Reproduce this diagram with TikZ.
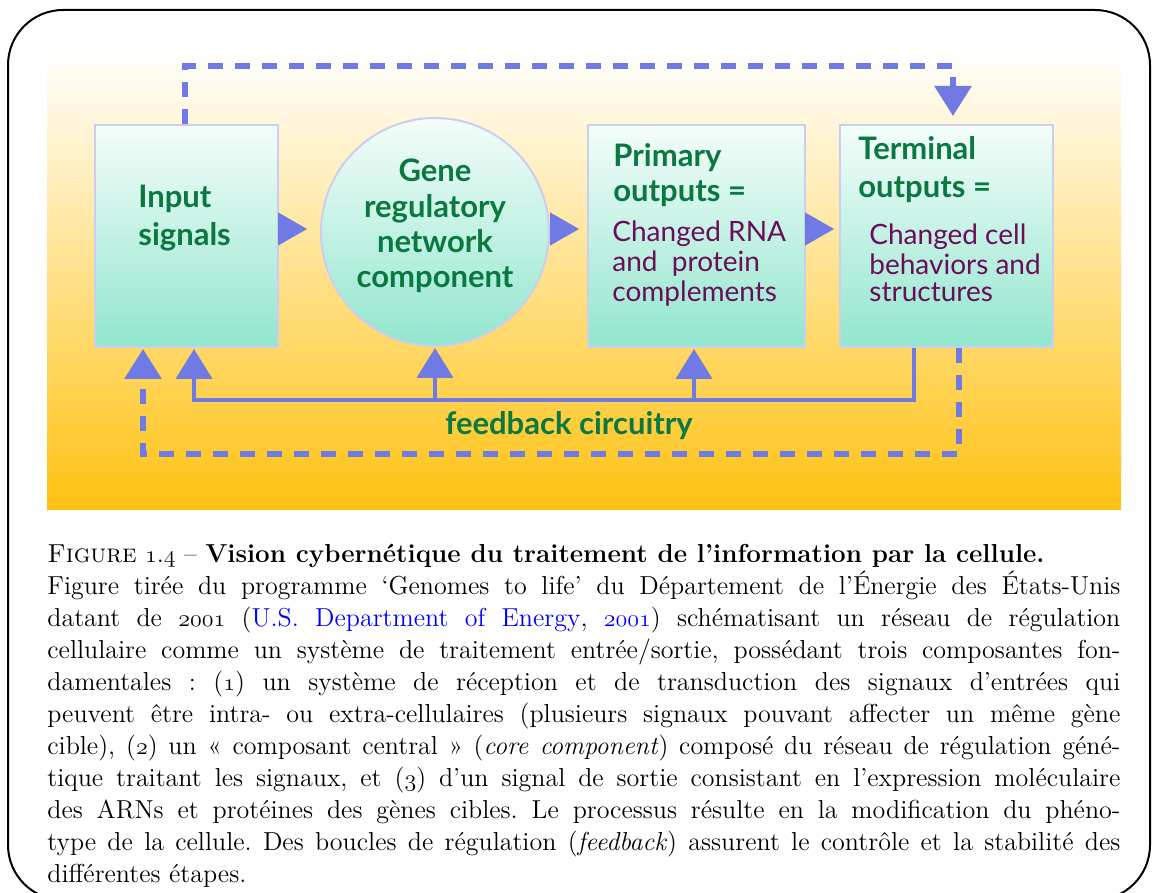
\documentclass[tikz,border=0pt]{standalone}
\usepackage{fontspec}
\newfontfamily\lato{Lato}
\usetikzlibrary{arrows.meta}
\definecolor{fbblue}{RGB}{112,122,228}
\definecolor{tgreen}{RGB}{10,120,64}
\definecolor{tpurple}{RGB}{106,15,87}
\definecolor{mint}{RGB}{146,230,206}
\definecolor{mintlight}{RGB}{244,253,250}
\definecolor{boxedge}{RGB}{204,206,240}
\definecolor{bgyellow}{RGB}{255,194,18}
\definecolor{bgmid}{RGB}{253,226,150}
\definecolor{linkblue}{RGB}{0,0,255}
\newcommand\osf[1]{{\fontencoding{OML}\fontfamily{lmm}\fontseries{m}\fontshape{it}\selectfont #1}}
\frenchspacing
\begin{document}
\begin{tikzpicture}[x=0.5pt,y=0.5pt,
  stagebox/.style={draw=boxedge, line width=1pt, top color=mintlight, bottom color=mint, inner sep=0pt},
  ttl/.style={font=\lato\bfseries\fontsize{15.5}{19}\selectfont, text=tgreen, inner sep=0pt},
  sub/.style={font=\lato\fontsize{14}{15}\selectfont, text=tpurple, inner sep=0pt},
  captext/.style={font=\fontsize{13}{16}\selectfont\frenchspacing, inner sep=0pt, anchor=base west},
  gaparrow/.style={fbblue, line width=0.5pt, -{Triangle[length=14.5pt,width=16.5pt]}},
  tipfb/.style={-{Triangle[length=15pt,width=18pt]}},
  solidfb/.style={fbblue, line width=2pt, tipfb},
  dashfb/.style={fbblue, line width=3pt, dash pattern=on 7.5pt off 6pt, tipfb}]
\useasboundingbox (0,0) rectangle (1152,-893);
\draw[line width=1pt, rounded corners=27.5pt] (8,-10) rectangle (1150,-900);
\shade[top color=white, middle color=bgmid, bottom color=bgyellow] (47,-50) rectangle (1121,-509);

% stages
\node[stagebox, minimum width=91.5pt, minimum height=111pt] (inp) at (186.5,-236) {};
\node[stagebox, circle, minimum size=114pt] (gene) at (435,-232) {};
\node[stagebox, minimum width=108.5pt, minimum height=111pt] (prim) at (696.5,-236) {};
\node[stagebox, minimum width=106.5pt, minimum height=111pt] (term) at (946.5,-236) {};

% texts
\node[ttl, anchor=base west] (inp1) at (138,-208) {Input};
\node[ttl, anchor=base west] (inp2) at (138,-246) {signals};
\node[ttl, anchor=base] (gene1) at (435,-182) {Gene};
\node[ttl, anchor=base] (gene2) at (435,-218) {regulatory};
\node[ttl, anchor=base] (gene3) at (435,-253) {network};
\node[ttl, anchor=base] (gene4) at (435,-288) {component};
\node[ttl, anchor=base west] (prim1) at (613,-167) {Primary};
\node[ttl, anchor=base west] (prim2) at (613,-202) {outputs =};
\node[sub, anchor=base west] (prim3) at (612,-242) {Changed RNA};
\node[sub, anchor=base west] (prim4) at (612,-272) {and\ \ protein};
\node[sub, anchor=base west] (prim5) at (612,-302) {complements};
\node[ttl, anchor=base west] (term1) at (858,-160) {Terminal};
\node[ttl, anchor=base west] (term2) at (858,-198) {outputs =};
\node[sub, anchor=base west] (term3) at (869,-245) {Changed cell};
\node[sub, anchor=base west] (term4) at (869,-275) {behaviors and};
\node[sub, anchor=base west] (term5) at (869,-302) {structures};
\node[ttl, anchor=base] (fbtxt) at (569,-435) {feedback circuitry};

% forward arrows
\draw[gaparrow, shorten >=6.5pt] ([yshift=3.5pt]inp.east) -- ([yshift=1.5pt]gene.west);
\draw[gaparrow, shorten >=4pt] ([yshift=1.5pt]gene.east) -- ([yshift=3.5pt]prim.west);
\draw[gaparrow, shorten >=2.5pt] ([yshift=3.5pt]prim.east) -- ([yshift=3.5pt]term.west);

% top dashed feedback
\draw[dashfb, shorten >=4pt] ([xshift=-0.75pt]inp.north) -- ++(0,58) -| ([xshift=3.25pt]term.north);

% solid feedback circuitry
\coordinate (bus) at (0,-400);
\draw[solidfb, shorten >=0.5pt] ([xshift=-16.25pt]term.south) |- (bus -| 194,0) -- ([xshift=3.75pt]inp.south);
\draw[solidfb, shorten >=0.5pt] (bus -| gene.south) -- (gene.south);
\draw[solidfb, shorten >=0.5pt] (bus -| 694,0) -- ([xshift=-1.25pt]prim.south);

% bottom dashed feedback
\draw[dashfb, shorten >=0.5pt] ([xshift=6.25pt]term.south) -- ++(0,-106) -| ([xshift=-21.75pt]inp.south);

% caption
\def\W{536.5pt}
\node[captext] (c1) at (47,-562) {\textsc{Figure} \osf{1}.\osf{4} -- \textbf{Vision cybernétique du traitement de l’information par la cellule.}};
\node[captext] (c2) at (47,-594) {\makebox[\W][s]{Figure tirée du programme ‘Genomes to life’ du Département de l’Énergie des États-Unis}};
\node[captext] (c3) at (47,-626) {\makebox[\W][s]{datant de \osf{2001} (\textcolor{linkblue}{U.S. Department of Energy}, \textcolor{linkblue}{\osf{2001}}) schématisant un réseau de régulation}};
\node[captext] (c4) at (47,-658) {\makebox[\W][s]{cellulaire comme un système de traitement entrée/sortie, possédant trois composantes fon-}};
\node[captext] (c5) at (47,-690) {\makebox[\W][s]{damentales : (\osf{1}) un système de réception et de transduction des signaux d’entrées qui}};
\node[captext] (c6) at (47,-722) {\makebox[\W][s]{peuvent être intra- ou extra-cellulaires (plusieurs signaux pouvant affecter un même gène}};
\node[captext] (c7) at (47,-754) {\makebox[\W][s]{cible), (\osf{2}) un « composant central » (\textit{core component}) composé du réseau de régulation géné-}};
\node[captext] (c8) at (47,-786) {\makebox[\W][s]{tique traitant les signaux, et (\osf{3}) d’un signal de sortie consistant en l’expression moléculaire}};
\node[captext] (c9) at (47,-818) {\makebox[\W][s]{des ARNs et protéines des gènes cibles. Le processus résulte en la modification du phéno-}};
\node[captext] (c10) at (47,-850) {\makebox[\W][s]{type de la cellule. Des boucles de régulation (\textit{feedback}) assurent le contrôle et la stabilité des}};
\node[captext] (c11) at (47,-882) {différentes étapes.};
\end{tikzpicture}
\end{document}
